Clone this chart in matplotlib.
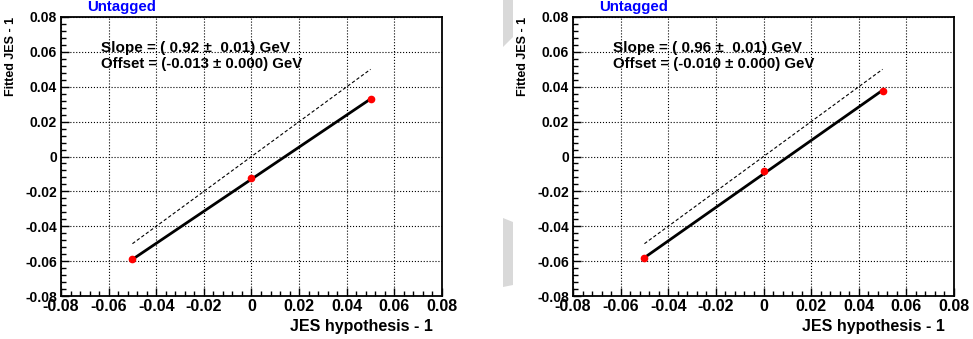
import matplotlib
matplotlib.use('Agg')
import matplotlib.pyplot as plt
from matplotlib.patches import Polygon
from matplotlib.ticker import MultipleLocator, FuncFormatter
import numpy as np

plt.rcParams['font.family'] = ['Liberation Sans', 'DejaVu Sans']
plt.rcParams['font.weight'] = 'bold'

# data
jes_hypo = [-0.05, 0.0, 0.05]
fitted_left = [-0.059, -0.0125, 0.033]
fitted_right = [-0.058, -0.0085, 0.0375]
slopes = [0.92, 0.96]
slope_errs = [0.01, 0.01]
offsets = [-0.013, -0.010]
offset_errs = [0.000, 0.000]
title = 'Untagged'
xlabel = 'JES hypothesis - 1'
ylabel = 'Fitted JES - 1'

fig = plt.figure(figsize=(9.73, 3.39), dpi=100)
W, H = 973.0, 339.0

# grey page artefacts between the two panels
for pts in ([(503, 0), (513, 0), (513, 37), (503, 47)],
            [(503, 218), (513, 222), (513, 285), (503, 287)]):
    fig.patches.append(Polygon([(x / W, 1 - y / H) for x, y in pts], closed=True,
                               transform=fig.transFigure, facecolor='#d9d9d9',
                               edgecolor='none'))

def root_fmt(v, pos):
    if abs(v) < 1e-9:
        return '0'
    return '%.2f' % v

def draw_panel(left_px, fitted, slope, slope_err, offset, offset_err):
    ax = fig.add_axes([left_px / W, (H - 296) / H, 381 / W, 279 / H])
    ax.set_xlim(-0.08, 0.08)
    ax.set_ylim(-0.08, 0.08)
    ax.xaxis.set_major_locator(MultipleLocator(0.02))
    ax.xaxis.set_minor_locator(MultipleLocator(0.004))
    ax.yaxis.set_major_locator(MultipleLocator(0.02))
    ax.yaxis.set_minor_locator(MultipleLocator(0.004))
    ax.xaxis.set_major_formatter(FuncFormatter(root_fmt))
    ax.yaxis.set_major_formatter(FuncFormatter(root_fmt))
    ax.grid(True, which='major', color='black', linestyle=':', linewidth=0.8)
    ax.tick_params(which='both', direction='in', top=False, right=False, width=1)
    ax.tick_params(which='major', length=6)
    ax.tick_params(which='minor', length=3.5)
    ax.tick_params(axis='x', labelsize=11.5, pad=2)
    ax.tick_params(axis='y', labelsize=10, pad=3)
    for sp in ax.spines.values():
        sp.set_linewidth(1.3)

    x = np.array([jes_hypo[0], jes_hypo[-1]])
    ax.plot(x, x, color='black', linestyle=(0, (3, 2)), linewidth=0.8)
    ax.plot(x, slope * x + offset, color='black', linewidth=2)
    ax.plot(jes_hypo, fitted, 'o', color='red', markersize=4.5, zorder=5)

    ax.text(0.105, 0.89, 'Slope = ( %.2f \u00b1  %.2f) GeV' % (slope, slope_err),
            transform=ax.transAxes, fontsize=11, fontweight='bold', va='center')
    ax.text(0.105, 0.83, 'Offset = (%.3f \u00b1 %.3f) GeV' % (offset, offset_err),
            transform=ax.transAxes, fontsize=10.8, fontweight='bold', va='center')
    ax.text(0.068, 1.035, title, transform=ax.transAxes, fontsize=10.8,
            fontweight='bold', color='blue', va='center')
    ax.set_xlabel(xlabel, fontsize=11.5, fontweight='bold', loc='right', labelpad=4)
    ax.xaxis.label.set_x(0.976)
    ax.set_ylabel(ylabel, fontsize=9, fontweight='bold', loc='top', labelpad=6)
    return ax

draw_panel(61, fitted_left, slopes[0], slope_errs[0], offsets[0], offset_errs[0])
draw_panel(573, fitted_right, slopes[1], slope_errs[1], offsets[1], offset_errs[1])

fig.savefig('out.png', dpi=100)
